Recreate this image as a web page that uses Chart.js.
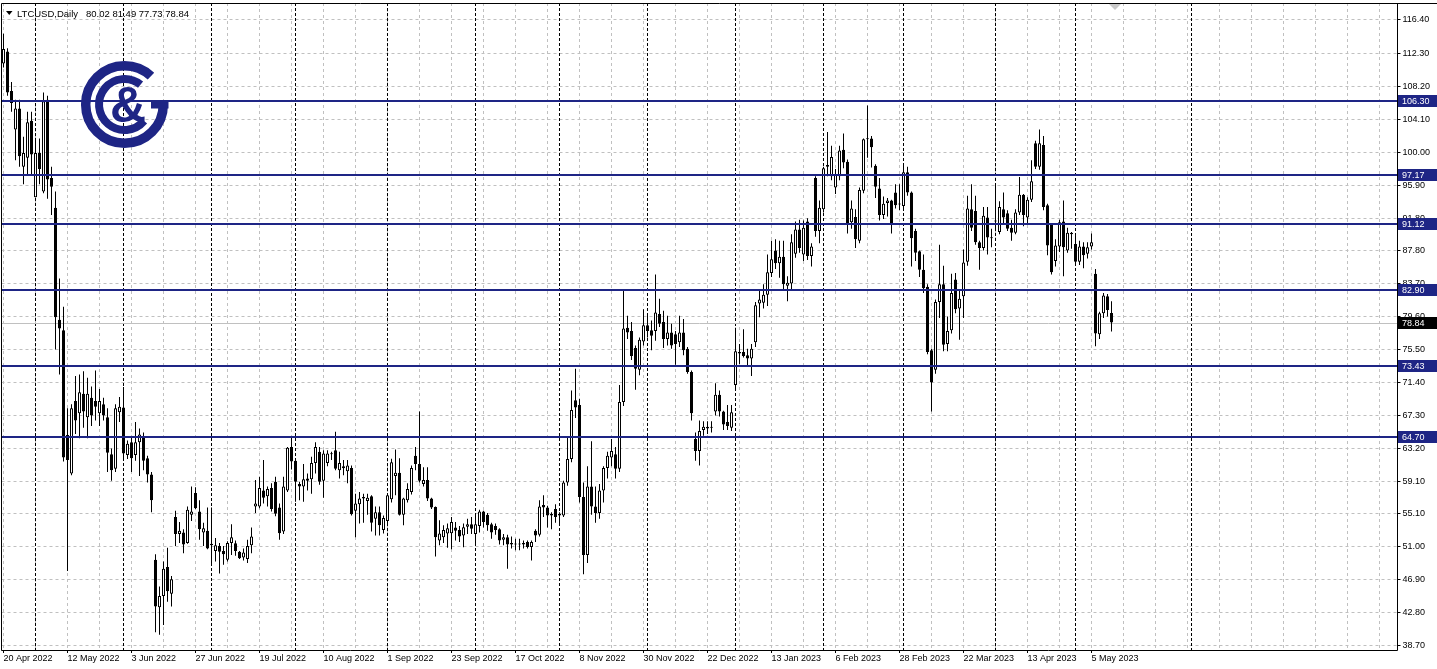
<!DOCTYPE html>
<html>
<head>
<meta charset="utf-8">
<script src="https://cdn.jsdelivr.net/npm/chart.js@4.4.0/dist/chart.umd.min.js"></script>
<style>
  html, body { margin: 0; padding: 0; background: #fff; }
</style>
</head>
<body>
<canvas id="chart" width="1437" height="669"></canvas>
<script>
// daily bars, weekdays only, 20 Apr 2022 .. 12 May 2023
var opens = [111.0,112.5,107.6,102.8,105.4,98.2,99.3,103.9,94.4,99.9,95.1,106.5,96.8,93.1,79.2,77.9,64.9,60.1,69.1,67.6,
  70.0,67.1,69.5,69.1,67.6,68.7,67.1,62.5,60.7,67.7,68.3,62.4,64.0,62.4,64.0,64.6,62.0,60.0,49.4,43.5,
  44.9,48.5,45.2,54.7,52.6,52.8,51.5,55.0,57.7,55.4,52.8,53.0,51.4,50.5,51.1,50.5,49.4,51.5,51.45,50.4,
  49.7,49.5,51.2,56.0,56.0,58.0,57.3,58.3,59.1,55.9,52.9,58.0,63.4,61.7,58.8,58.5,59.5,59.4,61.4,62.8,
  59.2,61.4,62.6,63.0,60.5,60.75,60.4,60.8,55.5,56.3,57.2,56.7,57.3,54.5,55.3,53.1,54.2,56.9,59.8,60.2,
  55.0,56.8,57.8,62.3,61.3,58.8,59.3,57.0,55.95,51.8,52.2,52.65,52.7,53.4,53.1,52.4,53.5,53.8,52.6,53.6,
  55.4,55.0,53.8,53.6,53.2,51.9,52.2,51.5,51.4,51.3,51.5,51.6,51.0,53.0,52.5,56.2,55.9,55.1,55.7,55.1,
  54.9,59.0,61.9,69.2,68.6,57.2,50.0,58.5,56.0,55.2,58.0,60.8,62.1,62.5,60.7,69.0,78.2,77.8,75.7,73.0,
  76.5,78.5,77.9,77.8,79.9,78.9,76.8,77.6,77.4,76.4,77.6,75.6,72.7,64.4,62.9,65.5,65.7,65.9,67.8,69.9,
  67.8,66.5,65.8,71.1,75.2,75.2,74.8,74.4,76.4,81.2,81.3,82.3,85.0,87.8,86.2,87.0,83.4,83.7,87.4,90.4,
  87.3,91.4,87.1,96.8,90.2,92.9,98.2,97.0,95.6,97.0,100.3,98.8,91.3,91.96,89.0,95.2,101.6,101.7,98.3,95.5,
  92.2,93.7,94.0,95.0,93.5,93.3,97.5,95.0,90.2,87.7,85.4,83.3,75.4,73.0,81.4,83.6,76.2,77.9,84.2,80.6,
  82.1,86.4,92.9,92.7,88.8,88.1,91.9,89.4,91.4,90.1,92.9,92.4,90.6,90.0,92.5,94.7,91.9,94.1,101.1,98.2,
  100.9,93.4,91.2,86.5,88.3,91.4,87.8,90.0,88.6,86.4,88.3,87.4,88.3,84.9,77.4,80.0,82.1,80.02];
var highs = [114.7,112.9,108.7,106.5,106.5,101.9,105.0,105.0,101.5,101.7,107.4,107.0,98.2,95.1,84.3,80.8,68.2,68.7,72.2,72.4,
  72.8,72.0,70.9,72.9,70.6,69.5,68.2,63.2,68.7,69.6,70.85,64.2,64.6,66.5,65.7,65.2,62.3,60.3,50.1,46.1,
  49.2,50.9,47.4,55.5,54.1,53.2,56.0,58.5,58.4,56.8,54.0,55.9,55.9,52.1,51.5,51.1,51.7,53.8,51.8,50.5,
  50.8,51.9,53.4,59.3,59.7,61.8,58.5,58.9,59.7,56.4,59.7,63.4,64.6,61.9,59.1,61.3,60.1,62.2,64.0,63.4,
  63.0,63.0,62.8,65.3,62.8,61.8,61.8,61.1,57.6,57.8,57.6,57.6,57.4,56.0,56.0,54.9,57.6,61.95,63.1,62.0,
  57.1,58.9,61.1,63.4,67.8,60.9,60.9,57.1,56.0,54.3,53.7,53.9,54.7,54.1,53.6,53.9,54.5,54.7,55.0,55.6,
  55.5,55.2,54.0,53.9,53.3,52.6,52.5,52.3,52.0,52.0,51.8,51.8,51.8,53.2,56.8,57.4,56.1,55.3,56.3,55.3,
  59.2,64.6,70.4,73.1,69.4,59.0,61.0,64.1,58.5,58.8,61.0,62.8,64.4,63.4,71.1,82.8,79.7,78.9,76.0,77.0,
  80.5,79.7,79.1,84.8,81.8,80.3,79.7,78.7,77.8,79.7,79.3,75.8,72.9,65.2,66.7,66.6,66.6,66.6,71.3,70.4,
  67.9,68.6,68.6,78.2,76.2,78.0,75.6,76.2,81.4,83.0,83.6,87.3,89.0,89.2,89.0,89.0,84.6,89.8,91.4,91.6,
  91.5,91.8,88.7,97.0,94.0,98.2,102.5,100.8,97.9,100.8,102.3,99.1,94.0,92.9,95.6,101.7,105.8,102.0,98.5,96.8,
  94.5,94.3,94.1,96.0,96.0,98.3,98.2,95.1,90.5,87.8,87.3,83.6,75.6,81.7,88.5,85.9,79.6,84.9,85.0,82.9,
  87.9,94.6,96.0,94.6,89.0,93.2,93.2,90.5,95.9,93.9,95.0,92.8,91.6,92.9,96.9,94.8,94.4,99.0,101.4,102.8,
  102.0,93.6,91.2,89.2,91.6,94.0,90.6,90.1,89.6,89.0,88.8,88.8,89.9,85.5,80.2,82.5,82.4,81.49];
var lows = [110.5,107.0,105.0,99.0,98.2,96.0,97.1,97.3,94.4,96.0,94.9,94.2,92.2,75.5,72.4,61.6,48.0,59.9,65.0,64.5,
  65.8,64.5,66.0,66.7,66.0,66.7,60.3,59.2,60.3,66.5,61.7,61.9,60.3,61.7,59.8,60.5,59.0,55.3,40.4,40.1,
  41.3,44.2,43.6,51.1,51.5,50.2,51.4,54.2,55.7,51.9,51.1,50.7,48.8,49.2,47.7,48.8,49.2,50.0,49.9,49.5,
  49.3,49.0,50.2,55.2,55.8,56.4,56.0,55.4,54.8,51.9,52.6,57.8,60.6,56.6,56.8,56.6,58.0,57.6,60.1,58.7,
  57.1,61.0,61.8,60.5,59.5,59.9,58.9,54.9,52.2,53.9,54.0,55.0,52.9,52.4,52.4,52.65,53.8,56.5,57.4,54.9,
  53.7,56.5,57.5,60.5,59.0,58.5,56.7,55.7,49.8,51.2,51.5,50.9,50.7,51.8,51.6,50.96,52.6,52.6,51.2,52.8,
  53.4,53.0,52.0,52.5,51.3,51.2,48.3,50.8,50.6,50.6,50.8,50.8,49.3,51.6,52.3,54.7,53.4,53.2,54.0,53.8,
  54.7,58.6,61.5,67.0,56.5,47.6,49.0,55.0,54.0,54.5,56.5,59.5,61.0,59.5,60.3,68.5,76.8,74.2,70.5,72.3,
  76.0,77.0,75.4,76.6,78.3,75.7,76.0,75.6,73.6,75.8,74.8,72.5,66.7,61.7,61.1,64.8,65.0,65.2,67.3,67.2,
  65.5,65.5,65.4,70.5,73.7,74.5,73.5,72.2,75.8,79.5,80.6,80.9,84.5,85.5,84.4,82.9,81.5,83.0,86.9,87.5,
  86.5,86.6,85.8,89.5,88.7,92.5,97.0,96.5,94.8,96.5,98.0,89.9,90.5,88.1,88.7,94.9,99.3,98.1,94.3,91.5,
  91.7,92.0,89.9,93.0,92.8,93.0,94.6,85.8,86.5,84.5,82.5,74.9,67.8,72.5,79.4,75.3,75.3,77.5,80.0,76.7,
  79.4,85.9,90.2,88.5,85.4,87.8,87.3,88.2,90.5,89.8,91.0,90.2,89.0,89.8,92.2,90.8,91.0,93.8,97.9,97.8,
  92.8,87.2,84.8,85.8,87.6,84.6,87.5,88.0,86.0,86.0,85.6,86.8,87.9,75.9,76.8,79.4,79.6,77.73];
var closes = [112.8,107.4,106.1,105.4,99.5,99.9,103.7,99.7,99.9,97.9,106.3,96.6,95.7,79.5,78.1,62.1,61.8,68.2,66.7,70.2,
  67.8,70.0,67.3,68.4,69.1,67.3,62.7,60.5,68.2,68.4,62.6,63.8,62.0,64.0,64.95,61.7,60.0,56.8,43.6,44.9,
  48.3,45.5,47.0,52.6,53.0,51.3,55.6,55.4,55.8,53.2,53.3,50.8,51.2,51.2,50.4,50.1,51.5,52.2,50.5,49.6,
  50.3,51.1,52.3,56.4,58.3,57.1,58.2,55.7,55.1,52.7,58.5,63.3,61.6,59.1,58.5,59.4,59.2,61.4,63.4,59.1,
  62.6,62.6,62.5,60.7,61.4,61.0,61.1,55.05,56.4,57.0,57.0,57.1,54.0,55.3,53.7,54.6,57.4,61.5,60.2,55.0,
  57.0,58.2,60.8,61.3,59.2,59.3,57.0,55.9,52.2,52.65,53.1,53.3,54.1,53.0,52.3,53.45,53.8,53.25,53.8,55.4,
  54.1,53.7,52.8,53.1,51.8,52.2,51.3,51.3,51.3,51.4,51.3,51.0,51.6,52.4,56.0,55.9,54.9,54.9,54.7,54.9,
  59.0,61.9,68.0,68.3,57.2,50.0,58.5,56.0,55.2,58.0,60.8,62.3,62.9,60.7,69.0,78.1,77.6,74.7,73.1,76.7,
  78.5,77.8,77.2,80.1,78.7,76.8,77.6,76.0,76.2,77.6,75.4,72.7,67.6,62.9,65.4,65.9,65.9,65.8,69.9,67.8,
  66.2,66.0,67.7,75.3,75.0,74.7,74.4,75.6,81.0,81.7,82.3,85.1,86.7,86.2,87.0,83.6,83.8,88.8,90.4,88.1,
  90.6,87.1,88.3,90.2,93.1,98.0,98.4,99.4,97.3,100.2,98.7,91.1,93.0,89.2,95.3,101.6,101.7,100.6,95.7,92.2,
  93.6,94.0,91.0,93.4,93.6,97.5,95.0,89.3,87.5,85.4,83.1,75.2,71.4,81.4,83.6,76.1,77.8,82.5,80.5,81.8,
  86.3,93.0,90.6,88.8,88.1,92.1,89.4,89.3,91.5,93.2,91.9,90.5,90.0,92.5,94.7,92.2,94.1,96.4,98.2,101.1,
  93.2,88.4,85.1,88.4,91.3,88.2,90.0,89.8,86.4,88.3,87.2,88.2,88.8,77.5,80.0,82.2,80.4,78.84];

// one date label every 16 bars
var tickLabels = ['20 Apr 2022','12 May 2022','3 Jun 2022','27 Jun 2022','19 Jul 2022','10 Aug 2022','1 Sep 2022',
  '23 Sep 2022','17 Oct 2022','8 Nov 2022','30 Nov 2022','22 Dec 2022','13 Jan 2023','6 Feb 2023','28 Feb 2023',
  '22 Mar 2023','13 Apr 2023','5 May 2023'];
// bar index of the first bar of each month (period separators)
var monthStarts = [8, 30, 52, 73, 96, 118, 139, 161, 183, 205, 225, 248, 268, 297];
var priceTicks = [116.40,112.30,108.20,104.10,100.00,95.90,91.80,87.80,83.70,79.60,75.50,71.40,67.30,63.20,59.10,55.10,51.00,46.90,42.80,38.70];
var levels = [106.30, 97.17, 91.12, 82.90, 73.43, 64.70];
var lastPrice = 78.84;
var slots = 349;

var NAVY = '#1e2585';
var GRID = '#c0c0c0';
var FONT = '"Liberation Sans", Arial, sans-serif';

var labels = [];
for (var i = 0; i < slots; i++) labels.push(i);

var bodies = opens.map(function(o, i) { return [o, closes[i]]; });
var wicks = lows.map(function(l, i) { return [l, highs[i]]; });

var overlay = {
  id: 'overlay',
  beforeDatasetsDraw: function(chart) {
    var ctx = chart.ctx, a = chart.chartArea, xs = chart.scales.x;
    ctx.save();
    ctx.strokeStyle = '#000';
    ctx.lineWidth = 1;
    ctx.setLineDash([3, 2]);
    monthStarts.forEach(function(m) {
      var x = Math.floor(xs.getPixelForValue(m)) + 0.5;
      ctx.beginPath(); ctx.moveTo(x, a.top); ctx.lineTo(x, a.bottom); ctx.stroke();
    });
    ctx.setLineDash([]);
    // bid line
    var yp = Math.round(chart.scales.y.getPixelForValue(lastPrice)) + 0.5;
    ctx.strokeStyle = '#c0c0c0';
    ctx.beginPath(); ctx.moveTo(a.left, yp); ctx.lineTo(a.right, yp); ctx.stroke();
    ctx.restore();
  },
  afterDraw: function(chart) {
    var ctx = chart.ctx, a = chart.chartArea, ys = chart.scales.y;
    ctx.save();
    // logo
    ctx.strokeStyle = NAVY; ctx.fillStyle = NAVY;
    ctx.lineWidth = 9.5;
    ctx.beginPath(); ctx.arc(124.5, 104.5, 38.8, 0, 313 * Math.PI / 180); ctx.stroke();
    ctx.fillRect(151, 100, 17.5, 8.5);
    ctx.lineWidth = 8;
    ctx.beginPath(); ctx.arc(124.5, 104.5, 25.5, 40 * Math.PI / 180, 309 * Math.PI / 180); ctx.stroke();
    ctx.font = 'bold 50px ' + FONT;
    ctx.textAlign = 'center'; ctx.textBaseline = 'alphabetic';
    ctx.fillText('&', 128, 122);

    // level lines
    ctx.lineWidth = 2;
    levels.forEach(function(v) {
      var y = Math.round(ys.getPixelForValue(v));
      ctx.beginPath(); ctx.moveTo(a.left, y); ctx.lineTo(a.right, y); ctx.stroke();
    });

    // frame
    ctx.strokeStyle = '#000'; ctx.lineWidth = 1;
    ctx.beginPath();
    ctx.moveTo(1.5, 3.5); ctx.lineTo(1437, 3.5);
    ctx.moveTo(1.5, 3.5); ctx.lineTo(1.5, a.bottom + 0.5); ctx.lineTo(a.right, a.bottom + 0.5);
    ctx.moveTo(Math.floor(a.right) + 0.5, 3.5); ctx.lineTo(Math.floor(a.right) + 0.5, a.bottom + 0.5);
    ctx.stroke();

    // axis price boxes
    ctx.font = '9px ' + FONT;
    ctx.textAlign = 'left'; ctx.textBaseline = 'middle';
    function box(v, bg) {
      var y = Math.round(ys.getPixelForValue(v));
      ctx.fillStyle = bg;
      ctx.fillRect(1398, y - 6, 39, 12);
      ctx.fillStyle = '#fff';
      ctx.fillText(v.toFixed(2), 1402, y + 0.5);
    }
    levels.forEach(function(v) { box(v, NAVY); });
    box(lastPrice, '#000');

    // shift marker
    ctx.fillStyle = '#c8c8c8';
    ctx.beginPath(); ctx.moveTo(1109, 4); ctx.lineTo(1121, 4); ctx.lineTo(1115, 10); ctx.closePath(); ctx.fill();

    // header
    ctx.fillStyle = '#000';
    ctx.beginPath(); ctx.moveTo(6, 11); ctx.lineTo(12.5, 11); ctx.lineTo(9.25, 15); ctx.closePath(); ctx.fill();
    ctx.font = '9.5px ' + FONT;
    ctx.textBaseline = 'alphabetic';
    ctx.fillText('LTCUSD,Daily', 17, 16.5);
    ctx.fillText('80.02 81.49 77.73 78.84', 86, 16.5);
    ctx.restore();
  }
};

new Chart(document.getElementById('chart'), {
  type: 'bar',
  data: {
    labels: labels,
    datasets: [
      {
        label: 'body',
        data: bodies,
        grouped: false,
        barThickness: 3,
        minBarLength: 1,
        borderWidth: 1,
        borderSkipped: false,
        borderColor: '#000',
        inflateAmount: 0,
        backgroundColor: function(c) {
          var i = c.dataIndex;
          return closes[i] >= opens[i] ? '#fff' : '#000';
        }
      },
      {
        label: 'wick',
        data: wicks,
        grouped: false,
        barThickness: 1,
        borderWidth: 0,
        inflateAmount: 0,
        backgroundColor: '#000'
      }
    ]
  },
  options: {
    responsive: false,
    animation: false,
    devicePixelRatio: 1,
    layout: { padding: { left: 1.5, top: 3, right: 0, bottom: 0 } },
    plugins: { legend: { display: false }, tooltip: { enabled: false } },
    scales: {
      x: {
        type: 'category',
        offset: true,
        grid: {
          offset: false,
          color: function(c) { return c.index % 8 === 0 ? GRID : 'rgba(0,0,0,0)'; },
          tickColor: function(c) { return (c.index % 16 === 0 && c.index / 16 < tickLabels.length) ? '#000' : 'rgba(0,0,0,0)'; },
          tickLength: 3
        },
        border: { display: false, dash: [3, 3] },
        ticks: {
          autoSkip: false,
          maxRotation: 0,
          minRotation: 0,
          align: 'start',
          padding: 0,
          color: '#000',
          font: { family: FONT, size: 9 },
          callback: function(v, i) {
            return (i % 16 === 0 && i / 16 < tickLabels.length) ? tickLabels[i / 16] : '';
          }
        },
        afterFit: function(s) { s.height = 19; s.paddingLeft = 0; s.paddingRight = 0; }
      },
      y: {
        position: 'right',
        min: 38.2035,
        max: 118.51,
        grid: { color: GRID, tickColor: '#000', tickLength: 3 },
        border: { display: false, dash: [3, 3] },
        ticks: {
          padding: 2,
          color: '#000',
          font: { family: FONT, size: 9 },
          callback: function(v) { return Number(v).toFixed(2); }
        },
        afterBuildTicks: function(s) {
          s.ticks = priceTicks.map(function(v) { return { value: v }; });
        },
        afterFit: function(s) { s.width = 39.5; s.paddingTop = 0; s.paddingBottom = 0; }
      }
    }
  },
  plugins: [overlay]
});
</script>
</body>
</html>
